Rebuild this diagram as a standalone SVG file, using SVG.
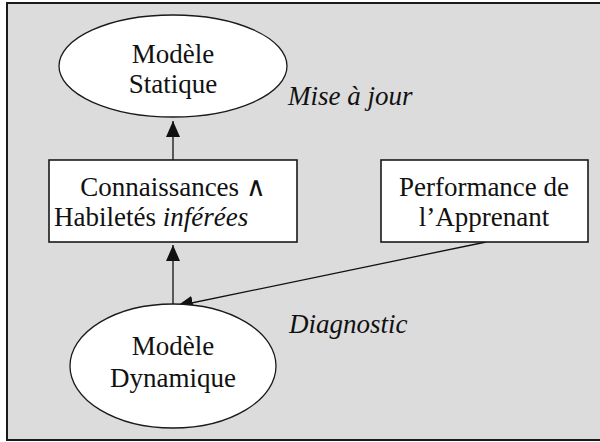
<svg xmlns="http://www.w3.org/2000/svg" width="600" height="442" viewBox="0 0 600 442">
  <style>
    .frame { fill: #dcdcdc; stroke: #1a1a1a; stroke-width: 2; }
    .oval { fill: #ffffff; stroke: #1a1a1a; stroke-width: 1.3; }
    .box { fill: #ffffff; stroke: #1a1a1a; stroke-width: 1.6; }
    .edge { fill: none; stroke: #111111; stroke-width: 1.3; }
  </style>
  <defs>
    <marker id="head" markerUnits="userSpaceOnUse" markerWidth="16" markerHeight="14" refX="16" refY="7" orient="auto">
      <path d="M0,0 L16,7 L0,14 Z" fill="#111111"/>
    </marker>
  </defs>

  <!-- white page with the grey panel -->
  <rect x="0" y="0" width="600" height="442" fill="#ffffff"/>
  <rect class="frame" x="7" y="3" width="600" height="437"/>

  <!-- connectors and their labels -->
  <g id="connectors">
    <line class="edge" x1="173" y1="160" x2="173" y2="121" marker-end="url(#head)"/>
    <line class="edge" x1="173" y1="305" x2="173" y2="245" marker-end="url(#head)"/>
    <line class="edge" x1="486" y1="242" x2="177" y2="306" marker-end="url(#head)"/>
    <g font-family="Liberation Serif, serif" font-size="27" font-style="italic" fill="#111111">
      <text x="288" y="105">Mise à jour</text>
      <text x="289" y="333">Diagnostic</text>
    </g>
  </g>

  <g font-family="Liberation Serif, serif" font-size="27" fill="#111111" text-anchor="middle">
    <g id="modele-statique">
      <ellipse class="oval" cx="173" cy="66" rx="114" ry="51"/>
      <text x="173" y="63">Modèle</text>
      <text x="173" y="93">Statique</text>
    </g>

    <g id="connaissances">
      <rect class="box" x="49" y="160" width="248" height="82"/>
      <text x="173" y="196">Connaissances ∧</text>
      <text x="54" y="226" text-anchor="start">Habiletés <tspan font-style="italic">inférées</tspan></text>
    </g>

    <g id="performance">
      <rect class="box" x="381" y="160" width="207" height="82"/>
      <text x="484" y="196">Performance de</text>
      <text x="484" y="226">l’Apprenant</text>
    </g>

    <g id="modele-dynamique">
      <ellipse class="oval" cx="173" cy="366" rx="103" ry="62"/>
      <text x="173" y="355">Modèle</text>
      <text x="173" y="387">Dynamique</text>
    </g>
  </g>
</svg>
